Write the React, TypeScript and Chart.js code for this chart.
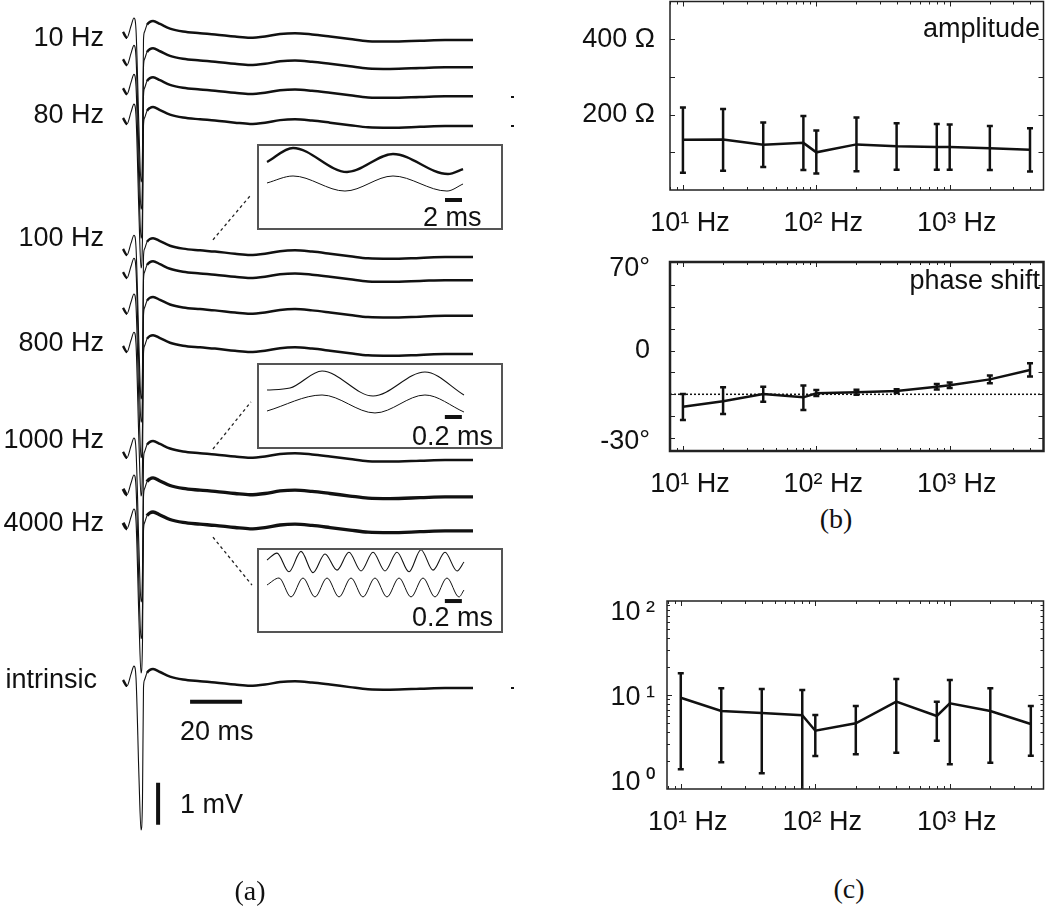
import React, { useEffect, useRef } from "react";
import { Chart, registerables } from "chart.js";
Chart.register(...registerables);

const SANS = '"Liberation Sans", Arial, Helvetica, sans-serif';
const SERIF = '"Liberation Serif", "Times New Roman", serif';
const INK = "#111";

// ---------------- Panel (a): recorded traces ----------------
const traceTimeMs = [0, 1.54, 3.08, 4.23, 5.0, 6.15, 6.92, 7.5, 7.88, 8.27, 9.23, 10.38, 11.54, 14.23, 18.08, 23.08, 29.62, 35.38, 43.08, 48.85, 54.62, 60.38, 66.15, 72.69, 79.62, 87.31, 94.23, 102.69, 114.23, 123.85, 134.62];
const traceShapeMv = [0.19, 0.05, 0.33, 0.52, 0.24, -2.14, -3.38, -2.62, 0.0, 0.19, 0.36, 0.43, 0.45, 0.38, 0.27, 0.2, 0.16, 0.13, 0.08, 0.05, 0.08, 0.14, 0.16, 0.13, 0.08, 0.02, -0.03, -0.04, -0.02, 0.0, 0.0];
const traceOffsetsMv = [-0.95, -1.6, -2.29, -3.0, -6.12, -6.67, -7.52, -8.43, -10.95, -11.83, -12.64, -16.38];
const traceNames = ["10 Hz", "", "", "80 Hz", "100 Hz", "", "", "800 Hz", "1000 Hz", "", "4000 Hz", "intrinsic"];

const timeBarMs = [25.8, 45.8];
const timeBarMv = -16.71;
const voltBarMs = 13.5;
const voltBarMv = [-18.64, -19.64];

const connectorMs = [[34.6, 49.2], [34.6, 49.2], [34.6, 49.6]];
const connectorMv = [[-5.71, -4.64], [-10.69, -9.57], [-12.79, -13.93]];

// insets (time in ms, amplitude in arbitrary units 0..10)
const inset1UpperT = [1.18, 4.24, 10.59, 16.0, 22.47, 24.24];
const inset1UpperV = [7.91, 9.53, 6.74, 8.84, 6.51, 7.09];
const inset1LowerT = [1.18, 4.24, 10.35, 16.0, 22.35, 24.24];
const inset1LowerV = [5.47, 6.28, 4.53, 6.28, 4.53, 5.35];
const inset1BarT = [22.12, 24.12];

const inset2UpperT = [0.118, 0.388, 0.765, 1.365, 1.976, 2.435];
const inset2UpperV = [6.86, 7.09, 9.07, 6.16, 8.95, 6.28];
const inset2LowerT = [0.118, 0.765, 1.388, 1.976, 2.435];
const inset2LowerV = [4.42, 6.28, 4.19, 6.28, 4.3];
const inset2BarT = [2.21, 2.41];

const inset3UpperT = [0.118, 0.235, 0.376, 0.518, 0.659, 0.8, 0.941, 1.082, 1.224, 1.365, 1.506, 1.647, 1.788, 1.929, 2.071, 2.212, 2.353, 2.435];
const inset3UpperV = [8.59, 9.4, 7.2, 9.6, 7.1, 9.3, 7.4, 9.5, 7.3, 9.5, 7.3, 9.5, 7.2, 9.8, 7.4, 9.5, 7.3, 8.35];
const inset3LowerT = [0.118, 0.259, 0.4, 0.541, 0.682, 0.824, 0.965, 1.106, 1.247, 1.388, 1.529, 1.671, 1.812, 1.953, 2.094, 2.235, 2.376, 2.435];
const inset3LowerV = [5.65, 6.47, 4.24, 6.47, 4.24, 6.47, 4.24, 6.47, 4.24, 6.47, 4.24, 6.47, 4.24, 6.47, 4.24, 6.47, 4.24, 5.06];
const inset3BarT = [2.21, 2.41];

// ---------------- Panels (b), (c) ----------------
const freqHz = [10, 20, 40, 80, 100, 200, 400, 800, 1000, 2000, 4000];
const ampMean = [133, 134, 120, 125, 100, 121, 116, 114, 114, 111, 107];
const ampLow = [46, 51, 61, 53, 44, 50, 54, 54, 54, 53, 49];
const ampHigh = [219, 215, 179, 196, 158, 192, 177, 175, 174, 170, 164];

const phaseMean = [-6.6, -3.7, 0.2, -1.6, 0.5, 1.1, 1.7, 4.0, 4.8, 7.9, 12.9];
const phaseLow = [-13.6, -10.4, -3.9, -8.3, -0.9, -0.2, 0.7, 2.5, 3.3, 5.9, 9.4];
const phaseHigh = [0.2, 3.7, 4.0, 4.6, 2.3, 2.4, 2.7, 5.5, 6.3, 9.9, 16.4];
const phaseRefDeg = 0;

const ratioMean = [9.36, 6.76, 6.43, 6.08, 4.17, 5.0, 8.49, 5.98, 8.15, 6.76, 4.91];
const ratioLow = [1.62, 1.92, 1.47, 0.8, 2.24, 2.34, 2.43, 3.27, 1.83, 1.9, 2.26];
const ratioHigh = [17.0, 11.8, 11.6, 11.3, 6.13, 7.64, 14.8, 8.49, 14.4, 11.8, 7.64];

const xTickValues = [10, 100, 1000];
const xTickLabels = ["10\u00b9 Hz", "10\u00b2 Hz", "10\u00b3 Hz"];

const ampTickValues = [200, 400];
const ampTickLabels = ["200 \u03a9", "400 \u03a9"];
const phaseTickValues = [-25.2, 23.1, 66.8];
const phaseTickLabels = ["-30\u00b0", "0", "70\u00b0"];
const ratioTickValues = [1.16, 9.5, 74.5];
const ratioTickLabels = ["10\u2009\u2070", "10\u2009\u00b9", "10\u2009\u00b2"];

function decadeMarks(lo: number, hi: number) {
  const out: { v: number; major: boolean }[] = [];
  for (let e = -1; e <= 4; e++) {
    for (let m = 1; m <= 9; m++) {
      const v = m * Math.pow(10, e);
      if (v >= lo * 0.999 && v <= hi * 1.001) out.push({ v, major: m === 1 });
    }
  }
  return out;
}

const frameTicksPlugin = {
  id: "frameTicks",
  afterDatasetsDraw(chart: any, _args: any, opts: any) {
    if (!opts || !opts.enabled) return;
    const { ctx, chartArea: a, scales } = chart;
    ctx.save();
    ctx.strokeStyle = opts.color;
    ctx.lineWidth = 1;
    ctx.beginPath();
    for (const m of opts.xMarks) {
      const px = Math.round(scales.x.getPixelForValue(m.v)) + 0.5;
      const L = m.major ? opts.majorLen : opts.minorLen;
      ctx.moveTo(px, a.bottom);
      ctx.lineTo(px, a.bottom - L);
      ctx.moveTo(px, a.top);
      ctx.lineTo(px, a.top + L);
    }
    for (const m of opts.yMarks) {
      const py = Math.round(scales.y.getPixelForValue(m.v)) + 0.5;
      const L = m.major ? opts.majorLen : opts.minorLen;
      ctx.moveTo(a.left, py);
      ctx.lineTo(a.left + L, py);
      ctx.moveTo(a.right, py);
      ctx.lineTo(a.right - L, py);
    }
    ctx.stroke();
    ctx.lineWidth = opts.frameWidth;
    ctx.strokeRect(a.left, a.top, a.right - a.left, a.bottom - a.top);
    ctx.restore();
  },
};

function zeroPad(s: any) {
  s.paddingTop = 0;
  s.paddingBottom = 0;
  s.paddingLeft = 0;
  s.paddingRight = 0;
}

function PanelA() {
  const ref = useRef<HTMLCanvasElement>(null);
  useEffect(() => {
    const widths = [2.5, 2.5, 2.5, 2.5, 2.5, 2.5, 2.5, 2.5, 2.5, 3.3, 3.3, 2.5];
    const datasets: any[] = traceOffsetsMv.map((off, i) => ({
      label: traceNames[i],
      data: traceTimeMs.map((t, j) => ({ x: t, y: off + traceShapeMv[j] })),
      borderColor: INK,
      borderWidth: widths[i],
      pointRadius: 0,
      cubicInterpolationMode: "monotone",
      segment: {
        borderWidth: (c: any) => {
          const dx = Math.abs(c.p1.x - c.p0.x);
          const dy = Math.abs(c.p1.y - c.p0.y);
          return dy > 2.5 * dx ? 1.1 : widths[i];
        },
      },
    }));
    datasets.push({
      data: timeBarMs.map((t) => ({ x: t, y: timeBarMv })),
      borderColor: INK, borderWidth: 4, pointRadius: 0, borderCapStyle: "butt",
    });
    datasets.push({
      data: voltBarMv.map((v) => ({ x: voltBarMs, y: v })),
      borderColor: INK, borderWidth: 4, pointRadius: 0, borderCapStyle: "butt",
    });
    connectorMs.forEach((xs, k) => {
      datasets.push({
        data: xs.map((t, j) => ({ x: t, y: connectorMv[k][j] })),
        borderColor: "#222", borderWidth: 1.3, borderDash: [3, 3], pointRadius: 0,
      });
    });
    const chart = new Chart(ref.current!, {
      type: "line",
      data: { datasets },
      options: {
        animation: false, responsive: false, devicePixelRatio: 1,
        layout: { padding: 0 },
        plugins: { legend: { display: false }, tooltip: { enabled: false } },
        scales: {
          x: { type: "linear", display: false, min: -47.308, max: 152.692 },
          y: { type: "linear", display: false, min: -21.643, max: 0 },
        },
      } as any,
    });
    return () => chart.destroy();
  }, []);
  return <canvas ref={ref} width={520} height={909} style={{ position: "absolute", left: 0, top: 0 }} />;
}

type InsetCfg = {
  left: number; top: number; w: number; h: number; pxPerMs: number;
  upT: number[]; upV: number[]; loT: number[]; loV: number[]; barT: number[]; barV: number; upWidth: number;
};

const insets: InsetCfg[] = [
  { left: 257, top: 144, w: 246, h: 86, pxPerMs: 8.5, upT: inset1UpperT, upV: inset1UpperV, loT: inset1LowerT, loV: inset1LowerV, barT: inset1BarT, barV: 3.49, upWidth: 2.4 },
  { left: 257, top: 363, w: 246, h: 86, pxPerMs: 85, upT: inset2UpperT, upV: inset2UpperV, loT: inset2LowerT, loV: inset2LowerV, barT: inset2BarT, barV: 3.72, upWidth: 1.1 },
  { left: 257, top: 548, w: 246, h: 85, pxPerMs: 85, upT: inset3UpperT, upV: inset3UpperV, loT: inset3LowerT, loV: inset3LowerV, barT: inset3BarT, barV: 3.76, upWidth: 1.1 },
];

function Inset({ c }: { c: InsetCfg }) {
  const ref = useRef<HTMLCanvasElement>(null);
  useEffect(() => {
    const chart = new Chart(ref.current!, {
      type: "line",
      data: {
        datasets: [
          { data: c.upT.map((t, i) => ({ x: t, y: c.upV[i] })), borderColor: INK, borderWidth: c.upWidth, pointRadius: 0, cubicInterpolationMode: "monotone" },
          { data: c.loT.map((t, i) => ({ x: t, y: c.loV[i] })), borderColor: INK, borderWidth: 1, pointRadius: 0, cubicInterpolationMode: "monotone" },
          { data: c.barT.map((t) => ({ x: t, y: c.barV })), borderColor: INK, borderWidth: 4, pointRadius: 0, borderCapStyle: "butt" },
        ],
      },
      options: {
        animation: false, responsive: false, devicePixelRatio: 1,
        layout: { padding: 0 },
        plugins: { legend: { display: false }, tooltip: { enabled: false } },
        scales: {
          x: { type: "linear", display: false, min: 0, max: c.w / c.pxPerMs },
          y: { type: "linear", display: false, min: 0, max: 10 },
        },
      } as any,
    });
    return () => chart.destroy();
  }, []);
  return (
    <div style={{ position: "absolute", left: c.left, top: c.top, width: c.w, height: c.h, background: "#fff" }}>
      <canvas ref={ref} width={c.w} height={c.h} style={{ position: "absolute", left: 0, top: 0 }} />
      <div style={{ position: "absolute", left: 0, top: 0, width: c.w, height: c.h, border: "2px solid #555", boxSizing: "border-box" }} />
    </div>
  );
}

type FreqCfg = {
  left: number; top: number; width: number; height: number;
  padTop: number; padRight: number; yAxisWidth: number; xAxisHeight: number;
  xMin: number; xMax: number; yType: string; yMin: number; yMax: number;
  yTicks: number[]; yLabels: string[]; yPad: number; yMarks: { v: number; major: boolean }[];
  frameWidth: number; mean: number[]; low: number[]; high: number[]; refLine?: number;
};

function FreqChart({ p }: { p: FreqCfg }) {
  const ref = useRef<HTMLCanvasElement>(null);
  useEffect(() => {
    const datasets: any[] = [];
    if (p.refLine !== undefined) {
      datasets.push({
        data: [{ x: p.xMin, y: p.refLine }, { x: p.xMax, y: p.refLine }],
        borderColor: INK, borderWidth: 1.5, borderDash: [2, 2], pointRadius: 0,
      });
    }
    datasets.push({
      data: freqHz.map((f, i) => ({ x: f, y: p.mean[i] })),
      borderColor: INK, borderWidth: 2.5, pointRadius: 0,
    });
    freqHz.forEach((f, i) => {
      datasets.push({
        data: [{ x: f, y: p.low[i] }, { x: f, y: p.high[i] }],
        borderColor: INK, borderWidth: 2.5, pointStyle: "line", pointRadius: 3,
        pointBorderWidth: 2.5, pointBorderColor: INK, pointBackgroundColor: INK,
      });
    });
    const font = { family: SANS, size: 27 };
    const chart = new Chart(ref.current!, {
      type: "line",
      data: { datasets },
      options: {
        animation: false, responsive: false, devicePixelRatio: 1,
        layout: { padding: { top: p.padTop, right: p.padRight, left: 0, bottom: 0 } },
        plugins: {
          legend: { display: false }, tooltip: { enabled: false },
          frameTicks: {
            enabled: true, color: "#222", frameWidth: p.frameWidth, majorLen: 5, minorLen: 3,
            xMarks: decadeMarks(p.xMin, p.xMax), yMarks: p.yMarks,
          },
        },
        scales: {
          x: {
            type: "logarithmic", min: p.xMin, max: p.xMax,
            border: { display: false }, grid: { display: false, drawTicks: false },
            afterFit: (s: any) => { s.height = p.xAxisHeight; zeroPad(s); },
            afterBuildTicks: (s: any) => { s.ticks = xTickValues.map((v) => ({ value: v })); },
            ticks: {
              autoSkip: false, maxRotation: 0, minRotation: 0, padding: 17, labelOffset: 7,
              color: INK, font, callback: (_v: any, i: number) => xTickLabels[i],
            },
          },
          y: {
            type: p.yType, min: p.yMin, max: p.yMax,
            border: { display: false }, grid: { display: false, drawTicks: false },
            afterFit: (s: any) => { s.width = p.yAxisWidth; zeroPad(s); },
            afterBuildTicks: (s: any) => { s.ticks = p.yTicks.map((v) => ({ value: v })); },
            ticks: {
              autoSkip: false, padding: p.yPad, color: INK, font,
              callback: (_v: any, i: number) => p.yLabels[i],
            },
          },
        },
      } as any,
      plugins: [frameTicksPlugin as any],
    });
    return () => chart.destroy();
  }, []);
  return <canvas ref={ref} width={p.width} height={p.height} style={{ position: "absolute", left: p.left, top: p.top }} />;
}

const ampPanel: FreqCfg = {
  left: 560, top: -5, width: 490, height: 250, padTop: 5, padRight: 2, yAxisWidth: 110, xAxisHeight: 55,
  xMin: 8, xMax: 5050, yType: "linear", yMin: 0, yMax: 500,
  yTicks: ampTickValues, yLabels: ampTickLabels, yPad: 15,
  yMarks: [100, 200, 300, 400].map((v) => ({ v, major: true })),
  frameWidth: 1.5, mean: ampMean, low: ampLow, high: ampHigh,
};

const phasePanel: FreqCfg = {
  left: 560, top: 240, width: 490, height: 260, padTop: 22, padRight: 2, yAxisWidth: 110, xAxisHeight: 49,
  xMin: 8, xMax: 5050, yType: "linear", yMin: -30, yMax: 70,
  yTicks: phaseTickValues, yLabels: phaseTickLabels, yPad: 20,
  yMarks: [-23.1, -11.55, 0, 11.55, 23.1, 34.65, 46.2, 57.75].map((v) => ({ v, major: true })),
  frameWidth: 2.5, mean: phaseMean, low: phaseLow, high: phaseHigh, refLine: phaseRefDeg,
};

const ratioPanel: FreqCfg = {
  left: 560, top: 580, width: 490, height: 270, padTop: 21, padRight: 5, yAxisWidth: 107, xAxisHeight: 61,
  xMin: 7.9, xMax: 4970, yType: "logarithmic", yMin: 1, yMax: 100,
  yTicks: ratioTickValues, yLabels: ratioTickLabels, yPad: 12,
  yMarks: decadeMarks(1, 100).filter((m) => m.v > 1 && m.v < 100),
  frameWidth: 1.5, mean: ratioMean, low: ratioLow, high: ratioHigh,
};

function Txt({ x, base, text, size = 27, align = "left", serif = false }: { x: number; base: number; text: string; size?: number; align?: string; serif?: boolean }) {
  const k = serif ? 0.8375 : 0.8465;
  const tx = align === "right" ? "translateX(-100%)" : align === "center" ? "translateX(-50%)" : "none";
  return (
    <div style={{
      position: "absolute", left: x, top: base - k * size, fontSize: size, lineHeight: `${size}px`,
      fontFamily: serif ? SERIF : SANS, whiteSpace: "nowrap", transform: tx, color: INK,
    }}>{text}</div>
  );
}

const traceLabelLayout = [
  { idx: 0, x: 104, base: 47 },
  { idx: 3, x: 104, base: 124 },
  { idx: 4, x: 104, base: 247 },
  { idx: 7, x: 104, base: 352 },
  { idx: 8, x: 104, base: 449 },
  { idx: 10, x: 104, base: 532 },
  { idx: 11, x: 97, base: 689 },
];

export default function App() {
  useEffect(() => { document.body.style.margin = "0"; }, []);
  return (
    <div style={{ position: "absolute", left: 0, top: 0, width: 1050, height: 909, background: "#fff", overflow: "hidden" }}>
      <PanelA />
      {insets.map((c, i) => <Inset key={i} c={c} />)}
      {traceLabelLayout.map((l) => <Txt key={l.idx} x={l.x} base={l.base} text={traceNames[l.idx]} align="right" />)}
      <Txt x={423} base={227} text="2 ms" />
      <Txt x={412} base={446} text="0.2 ms" />
      <Txt x={412} base={627} text="0.2 ms" />
      <Txt x={180} base={741} text="20 ms" />
      <Txt x={180} base={814} text="1 mV" />
      {[97, 126, 688].map((y) => (
        <div key={y} style={{ position: "absolute", left: 511, top: y - 1, width: 3, height: 2, background: INK }} />
      ))}
      <Txt x={250} base={900} text="(a)" size={28} align="center" serif />
      <FreqChart p={ampPanel} />
      <FreqChart p={phasePanel} />
      <FreqChart p={ratioPanel} />
      <Txt x={1040} base={38} text="amplitude" align="right" />
      <Txt x={1040} base={290} text="phase shift" align="right" />
      <Txt x={836} base={528} text="(b)" size={28} align="center" serif />
      <Txt x={849} base={898} text="(c)" size={28} align="center" serif />
    </div>
  );
}
